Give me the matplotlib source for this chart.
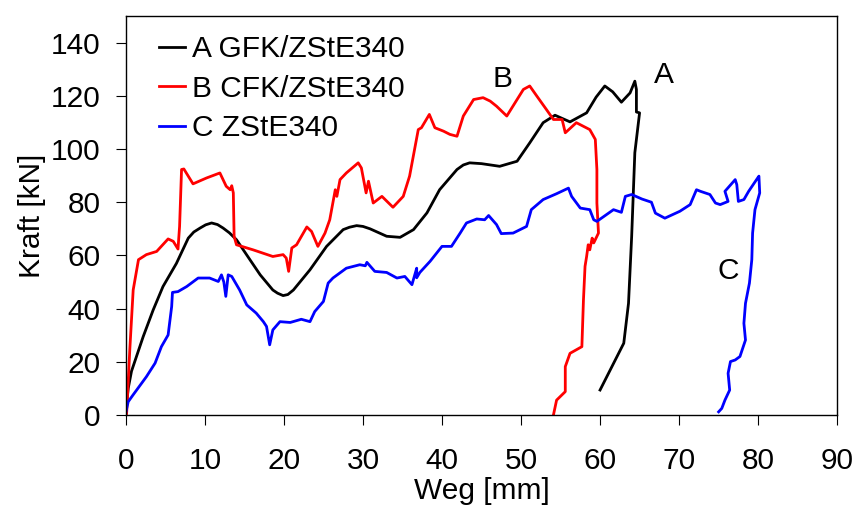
import matplotlib
matplotlib.use("Agg")
import matplotlib.pyplot as plt

plt.rcParams['font.family'] = ['Liberation Sans', 'DejaVu Sans']

# Kraft-Weg-Verläufe (Weg in mm, Kraft in kN)
a_weg = [0.0, 0.3, 0.72, 2.2, 3.46, 4.7, 6.4, 7.9, 8.6, 9.4, 10.1, 10.85, 11.6,
         12.3, 13.1, 14.0, 15.7, 17.0, 18.6, 19.2, 19.9, 20.5, 21.2, 23.3, 25.4,
         27.5, 28.3, 29.2, 30.0, 30.9, 33.0, 34.7, 36.4, 38.1, 39.7, 41.9, 42.7,
         43.5, 45.0, 47.3, 49.5, 51.1, 52.8, 54.3, 56.2, 58.3, 59.5, 60.6, 61.6,
         62.7, 63.8, 64.4, 64.6, 64.6, 65.0, 64.4, 64.0, 63.6, 63.0, 60.0]
a_kraft = [1.0, 10.0, 16.5, 29.5, 39.5, 48.3, 57.0, 66.5, 68.8, 70.3, 71.5, 72.2,
           71.6, 70.3, 68.5, 65.9, 58.4, 52.7, 47.0, 45.8, 44.9, 45.3, 47.0, 54.6,
           63.4, 69.7, 70.6, 71.2, 70.9, 70.0, 67.2, 66.8, 69.7, 76.0, 84.7, 92.3,
           94.0, 94.8, 94.5, 93.5, 95.4, 102.3, 109.9, 112.7, 110.2, 113.6, 119.5,
           123.7, 121.5, 117.6, 121.1, 125.5, 122.4, 113.9, 113.6, 98.6, 67.2,
           42.0, 27.0, 9.4]

b_weg = [0.1, 0.5, 0.93, 1.6, 2.6, 3.9, 5.35, 6.0, 6.6, 6.8, 7.05, 7.34, 8.5,
         10.2, 11.9, 12.7, 13.2, 13.4, 13.6, 13.7, 14.0, 16.1, 18.6, 19.9, 20.3,
         20.6, 21.0, 21.6, 22.9, 23.5, 24.3, 25.2, 25.8, 26.5, 26.7, 27.1, 27.9,
         29.4, 29.8, 30.4, 30.7, 31.3, 32.4, 33.8, 35.1, 35.9, 37.0, 37.4, 38.4,
         39.1, 40.2, 41.0, 41.9, 42.7, 44.0, 45.2, 46.1, 46.9, 48.2, 49.5, 50.3,
         51.1, 52.0, 53.2, 54.1, 55.2, 55.6, 57.0, 58.7, 59.4, 59.6, 59.6, 59.8,
         59.2, 59.0, 58.7, 58.5, 58.3, 58.1, 57.9, 57.7, 56.2, 55.6, 55.6, 54.5,
         54.1]
b_kraft = [0.6, 24.5, 47.0, 58.4, 60.3, 61.5, 66.2, 65.3, 62.4, 70.9, 92.3, 92.5,
           86.9, 89.1, 91.0, 86.0, 84.7, 86.2, 83.5, 67.2, 64.0, 62.1, 59.6, 60.3,
           59.0, 54.0, 62.8, 64.0, 70.7, 69.0, 63.4, 68.4, 73.4, 84.7, 82.2, 88.5,
           91.0, 94.8, 92.9, 83.5, 87.9, 79.7, 82.2, 78.1, 82.2, 89.8, 107.3,
           108.0, 113.0, 108.0, 106.7, 105.5, 104.8, 112.4, 118.6, 119.3, 118.0,
           116.1, 112.4, 118.6, 122.4, 123.7, 119.9, 114.9, 111.1, 111.1, 106.1,
           109.9, 107.3, 103.6, 92.3, 79.7, 68.4, 64.7, 66.5, 62.1, 64.0, 59.6,
           55.9, 43.3, 25.7, 23.2, 18.2, 8.8, 5.6, 0.0]

c_weg = [0.0, 0.3, 0.9, 2.6, 3.7, 4.5, 5.35, 5.8, 5.9, 6.6, 7.7, 9.15, 10.6, 11.7,
         12.1, 12.4, 12.65, 12.95, 13.4, 14.4, 15.3, 16.5, 17.4, 17.8, 18.2, 18.6,
         19.5, 20.8, 22.2, 23.3, 23.9, 25.0, 25.6, 26.2, 27.9, 29.6, 30.3, 30.5,
         31.5, 33.0, 34.3, 35.3, 36.2, 36.8, 36.8, 37.2, 38.5, 40.0, 41.2, 42.3,
         43.1, 44.4, 45.4, 45.9, 46.9, 47.5, 49.0, 50.7, 51.3, 52.8, 54.5, 56.0,
         56.4, 57.5, 58.7, 59.2, 59.6, 61.7, 62.7, 63.2, 64.0, 65.3, 66.5, 67.0,
         68.2, 70.1, 71.4, 72.2, 72.7, 73.9, 74.6, 75.2, 76.2, 75.8, 77.1, 77.3,
         77.5, 78.2, 78.8, 79.8, 80.1, 80.2, 79.6, 79.3, 79.2, 78.9, 78.4, 78.2,
         78.4, 77.7, 77.1, 76.5, 76.2, 76.4, 75.8, 75.4, 75.0]
c_kraft = [1.0, 5.0, 7.5, 14.4, 19.5, 25.7, 30.1, 40.8, 46.1, 46.4, 48.3, 51.5,
           51.5, 50.2, 52.7, 50.0, 44.6, 52.7, 52.1, 47.0, 41.4, 38.3, 35.1, 33.3,
           26.4, 32.0, 35.1, 34.8, 36.0, 35.1, 38.9, 42.7, 49.6, 51.5, 55.2, 56.5,
           56.1, 57.4, 54.0, 53.6, 51.5, 52.1, 49.0, 55.2, 51.6, 53.6, 57.8, 63.4,
           63.4, 68.4, 72.2, 73.7, 73.4, 75.0, 71.6, 68.2, 68.4, 70.9, 77.2, 81.0,
           83.2, 85.3, 82.2, 77.8, 77.2, 73.4, 72.8, 77.2, 76.2, 82.2, 82.9, 81.2,
           80.0, 75.9, 74.0, 76.6, 79.1, 84.7, 84.1, 82.9, 79.7, 79.1, 80.3, 84.1,
           88.5, 86.6, 80.3, 81.0, 84.1, 88.5, 89.8, 83.5, 77.2, 68.4, 58.4, 49.6,
           42.0, 34.5, 28.2, 22.0, 20.7, 20.1, 15.7, 9.4, 5.6, 2.5, 1.2]

series_labels = ["A GFK/ZStE340", "B CFK/ZStE340", "C ZStE340"]
series_colors = ["black", "red", "blue"]

x_ticks = [0, 10, 20, 30, 40, 50, 60, 70, 80, 90]
y_ticks = [0, 20, 40, 60, 80, 100, 120, 140]

FS = 21.5

fig = plt.figure(figsize=(8.56, 5.08), dpi=100)
ax = fig.add_axes([0.147, 0.183, 0.831, 0.7855])

for xs, ys, lab, col in zip([a_weg, b_weg, c_weg], [a_kraft, b_kraft, c_kraft],
                            series_labels, series_colors):
    ax.plot(xs, ys, color=col, lw=2.0, label=lab, solid_joinstyle='round')

ax.set_xlim(0, 90)
ax.set_ylim(0, 150)
ax.set_xticks(x_ticks)
ax.set_yticks(y_ticks)
ax.tick_params(axis='both', direction='out', length=7, width=0.8, labelsize=FS)
ax.tick_params(axis='x', pad=16)
ax.tick_params(axis='y', pad=11)
for sp in ax.spines.values():
    sp.set_linewidth(1.0)

ax.set_xlabel("Weg [mm]", fontsize=FS, labelpad=1.5)
ax.set_ylabel("Kraft [kN]", fontsize=FS, labelpad=4)

ax.text(47.7, 126.4, "B", fontsize=FS, ha='center', va='center')
ax.text(68.1, 128.0, "A", fontsize=FS, ha='center', va='center')
ax.text(76.2, 54.0, "C", fontsize=FS, ha='center', va='center')

leg = ax.legend(loc='upper left', bbox_to_anchor=(0.02, 1.0), frameon=False,
                fontsize=FS, handlelength=0.85, handletextpad=0.25,
                labelspacing=0.38, borderaxespad=0.25)

fig.savefig("out.png", dpi=100)
